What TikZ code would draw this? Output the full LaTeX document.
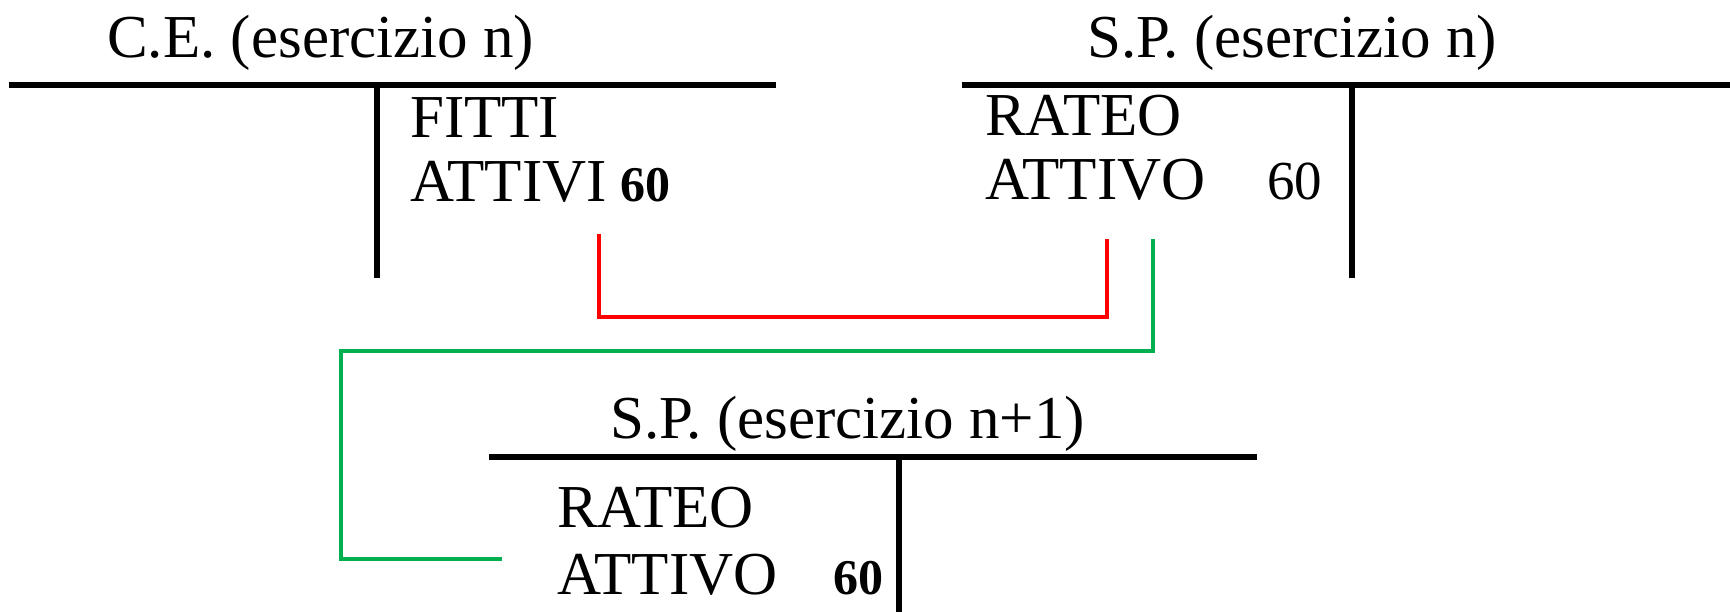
\documentclass[tikz,border=0pt]{standalone}
\usepackage{fontspec}
\setmainfont{Liberation Serif}
\begin{document}
\begin{tikzpicture}[x=1pt,y=-1pt,
  lbl/.style={inner sep=0pt, anchor=base west, font=\fontsize{61}{70}\selectfont},
  num/.style={inner sep=0pt, anchor=base west, font=\fontsize{55}{64}\selectfont},
  boldnum/.style={inner sep=0pt, anchor=base west, font=\fontsize{50}{60}\selectfont\bfseries},
  tline/.style={line width=5.5pt, black},
  redlink/.style={line width=4.5pt, color=linkred},
  greenlink/.style={line width=4.5pt, color=linkgreen}]
\definecolor{linkred}{RGB}{255,0,0}
\definecolor{linkgreen}{RGB}{0,176,80}
\useasboundingbox (0,0) rectangle (1730,612);

% Conto economico, esercizio n
\node[lbl] (ceT) at (107,58) {C.E. (esercizio n)};
\coordinate (ceL) at (9,85);
\coordinate (ceR) at (776,85);
\coordinate (ceTop) at (377,85);
\coordinate (ceBot) at (377,278);
\draw[tline] (ceL) -- (ceR);
\draw[tline] (ceTop) -- (ceBot);
\node[lbl] (fitti) at (410,138) {FITTI};
\node[lbl] (attivi) at (410,202) {ATTIVI};
\node[boldnum] (v1) at (620,202) {60};

% Stato patrimoniale, esercizio n
\node[lbl] (spT) at (1087,58) {S.P. (esercizio n)};
\coordinate (spL) at (962,85);
\coordinate (spR) at (1730,85);
\coordinate (spTop) at (1352,85);
\coordinate (spBot) at (1352,278);
\draw[tline] (spL) -- (spR);
\draw[tline] (spTop) -- (spBot);
\node[lbl] (rateo1) at (985,136) {RATEO};
\node[lbl] (attivo1) at (985,200) {ATTIVO};
\node[num] (v2) at (1267,200) {60};

% Stato patrimoniale, esercizio n+1
\node[lbl] (sp2T) at (610,438) {S.P. (esercizio n+1)};
\coordinate (sp2L) at (489,457);
\coordinate (sp2R) at (1257,457);
\coordinate (sp2Top) at (899,457);
\coordinate (sp2Bot) at (899,612);
\draw[tline] (sp2L) -- (sp2R);
\draw[tline] (sp2Top) -- (sp2Bot);
\node[lbl] (rateo2) at (557,527) {RATEO};
\node[lbl] (attivo2) at (557,594) {ATTIVO};
\node[boldnum] (v3) at (833,594) {60};

% Collegamenti
\coordinate (r1) at (599,234);
\coordinate (r2) at (1107,239);
\draw[redlink] (r1) |- (850,317) -| (r2);
\coordinate (g1) at (1153,239);
\coordinate (g2) at (502,559);
\draw[greenlink] (g1) |- (341,351) |- (g2);
\end{tikzpicture}
\end{document}
